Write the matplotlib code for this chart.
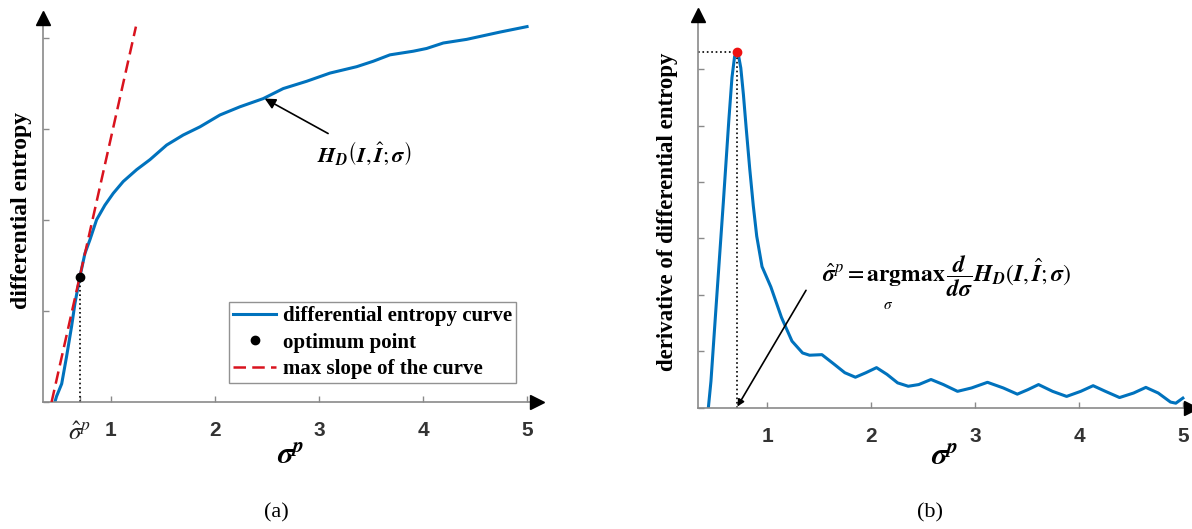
import matplotlib
matplotlib.use("Agg")
import matplotlib.pyplot as plt

plt.rcParams['mathtext.fontset'] = 'stix'

# panel (a): differential entropy vs sigma^p
sigma_a = [0.465, 0.48, 0.53, 0.577, 0.625, 0.657, 0.705, 0.753, 0.801, 0.865, 0.945, 1.025,
           1.121, 1.25, 1.378, 1.538, 1.697, 1.858, 2.05, 2.242, 2.466, 2.658, 2.883, 3.107,
           3.363, 3.523, 3.683, 3.907, 4.035, 4.195, 4.42, 4.58, 4.74, 5.0]
entropy_a = [0.0, 0.06, 0.20, 0.50, 0.83, 1.08, 1.375, 1.63, 1.78, 2.00, 2.16, 2.29,
             2.42, 2.55, 2.66, 2.82, 2.93, 3.02, 3.15, 3.24, 3.33, 3.44, 3.52, 3.61,
             3.68, 3.74, 3.81, 3.85, 3.88, 3.94, 3.98, 4.02, 4.06, 4.12]
slope_x = [0.433, 1.243]
slope_y = [0.0, 4.12]
opt_sigma = 0.705
opt_entropy = 1.375

# panel (b): derivative of differential entropy
sigma_b = [0.433, 0.458, 0.509, 0.577, 0.630, 0.660, 0.685, 0.705, 0.722, 0.745, 0.770, 0.797,
           0.831, 0.865, 0.898, 0.949, 1.034, 1.136, 1.237, 1.339, 1.406, 1.525, 1.643, 1.745,
           1.847, 1.948, 2.05, 2.151, 2.253, 2.355, 2.456, 2.574, 2.693, 2.829, 2.964, 3.117,
           3.269, 3.404, 3.506, 3.608, 3.743, 3.878, 4.014, 4.133, 4.251, 4.387, 4.522, 4.64,
           4.759, 4.877, 4.928, 4.996]
deriv_b = [0.0, 0.47, 1.84, 3.64, 5.10, 5.85, 6.22, 6.30, 6.25, 6.02, 5.55, 4.95,
           4.23, 3.58, 3.04, 2.50, 2.14, 1.60, 1.18, 0.97, 0.93, 0.94, 0.77, 0.62,
           0.54, 0.62, 0.71, 0.59, 0.44, 0.38, 0.41, 0.50, 0.41, 0.29, 0.35, 0.45,
           0.35, 0.24, 0.32, 0.41, 0.29, 0.20, 0.29, 0.39, 0.29, 0.18, 0.26, 0.36,
           0.26, 0.10, 0.08, 0.17]
peak_sigma = 0.705
peak_deriv = 6.30

xticks = [1, 2, 3, 4, 5]
blue = '#0072BD'
red = '#D9131E'
axcol = '#8a8a8a'
serif = 'Liberation Serif'
sans = 'Liberation Sans'

fig = plt.figure(figsize=(11.92, 5.29), dpi=100)
ax1 = fig.add_axes([0.0363, 0.2401, 0.4146, 0.7251])
ax2 = fig.add_axes([0.5858, 0.2293, 0.4130, 0.7414])


def style_axes(ax):
    for s in ['top', 'right']:
        ax.spines[s].set_visible(False)
    for s in ['left', 'bottom']:
        ax.spines[s].set_color(axcol)
        ax.spines[s].set_linewidth(1.2)
    ax.tick_params(direction='in', length=4, color=axcol, width=1, pad=14)
    ax.set_yticklabels([])
    for lab in ax.get_xticklabels():
        lab.set_fontfamily(sans)
        lab.set_fontweight('bold')
        lab.set_fontsize(15)
        lab.set_color('#333333')
    ax.plot(1, 0, '>', transform=ax.transAxes, clip_on=False, color='k', ms=10, zorder=5)
    ax.plot(0, 1, '^', transform=ax.transAxes, clip_on=False, color='k', ms=10, zorder=5)


# ---- panel (a)
ax1.plot(sigma_a, entropy_a, color=blue, lw=2.2, label='differential entropy curve')
ax1.plot([opt_sigma], [opt_entropy], 'o', color='k', ms=6, label='optimum point', zorder=4)
ax1.plot(slope_x, slope_y, '--', dashes=(5, 2.5), color=red, lw=1.8, label='max slope of the curve', zorder=3)
ax1.plot([opt_sigma, opt_sigma], [0, opt_entropy], ':', color='k', lw=1.2)
ax1.set_xlim(0.353, 5.1)
ax1.set_ylim(0, 4.21)
ax1.set_xticks([opt_sigma] + xticks)
ax1.set_xticklabels([r'$\hat{\sigma}^p$'] + [str(t) for t in xticks])
ax1.set_yticks([0, 1, 2, 3, 4])
style_axes(ax1)
ax1.get_xticklabels()[0].set_fontsize(18)
ax1.get_xticklabels()[0].set_color('#222222')
ax1.set_xlabel(r'$\mathbfit{\sigma}^{\mathbfit{p}}$', fontsize=22, labelpad=-3)
ax1.set_ylabel('differential entropy', fontfamily=serif, fontweight='bold', fontsize=17, labelpad=-6)
ax1.annotate(r'$\mathbfit{H}_{\mathbfit{D}}\left(\mathbfit{I},\hat{\mathbfit{I}};\mathbfit{\sigma}\right)$',
             xy=(2.48, 3.33), xytext=(2.98, 2.73), fontsize=16, va='center', ha='left',
             arrowprops=dict(arrowstyle='-|>', color='k', lw=1.2, shrinkA=5, shrinkB=0))
leg = ax1.legend(loc='lower right', bbox_to_anchor=(0.9565, 0.0495),
                 prop={'family': serif, 'weight': 'bold', 'size': 15},
                 frameon=True, fancybox=False, edgecolor='#777777', handlelength=2.1,
                 handletextpad=0.3, borderpad=0.2, labelspacing=0.3, borderaxespad=0)
leg.get_frame().set_linewidth(1.0)
fig.text(0.2315, 0.030, '(a)', fontfamily=serif, fontsize=16, ha='center', va='center')

# ---- panel (b)
ax2.plot(sigma_b, deriv_b, color=blue, lw=2.2)
ax2.plot([peak_sigma], [peak_deriv], 'o', color='#ee1111', ms=6, zorder=4)
ax2.plot([0.336, peak_sigma], [peak_deriv, peak_deriv], ':', color='k', lw=1.2)
ax2.plot([peak_sigma, peak_sigma], [0, peak_deriv], ':', color='k', lw=1.2)
ax2.set_xlim(0.336, 5.07)
ax2.set_ylim(0, 6.95)
ax2.set_xticks(xticks)
ax2.set_xticklabels([str(t) for t in xticks])
ax2.set_yticks([0, 1, 2, 3, 4, 5, 6])
style_axes(ax2)
ax2.set_xlabel(r'$\mathbfit{\sigma}^{\mathbfit{p}}$', fontsize=22, labelpad=-3)
ax2.set_ylabel('derivative of differential entropy', fontfamily=serif, fontweight='bold', fontsize=16.5, labelpad=0.5)
ax2.annotate('', xy=(0.712, 0.02), xytext=(1.372, 2.08),
             arrowprops=dict(arrowstyle='-|>', color='k', lw=1.2, shrinkA=0, shrinkB=0))
ax2.text(1.526, 2.32,
         r'$\hat{\mathbfit{\sigma}}^{p}=\mathbf{argmax}\,\dfrac{\mathbfit{d}}{\mathbfit{d\sigma}}\mathbfit{H}_{\mathbfit{D}}(\mathbfit{I},\hat{\mathbfit{I}};\mathbfit{\sigma})$',
         fontsize=17, va='center', ha='left')
ax2.text(2.16, 1.82, r'$\sigma$', fontsize=11, va='center', ha='center')
fig.text(0.780, 0.030, '(b)', fontfamily=serif, fontsize=16, ha='center', va='center')

fig.savefig('out.png', dpi=100)
